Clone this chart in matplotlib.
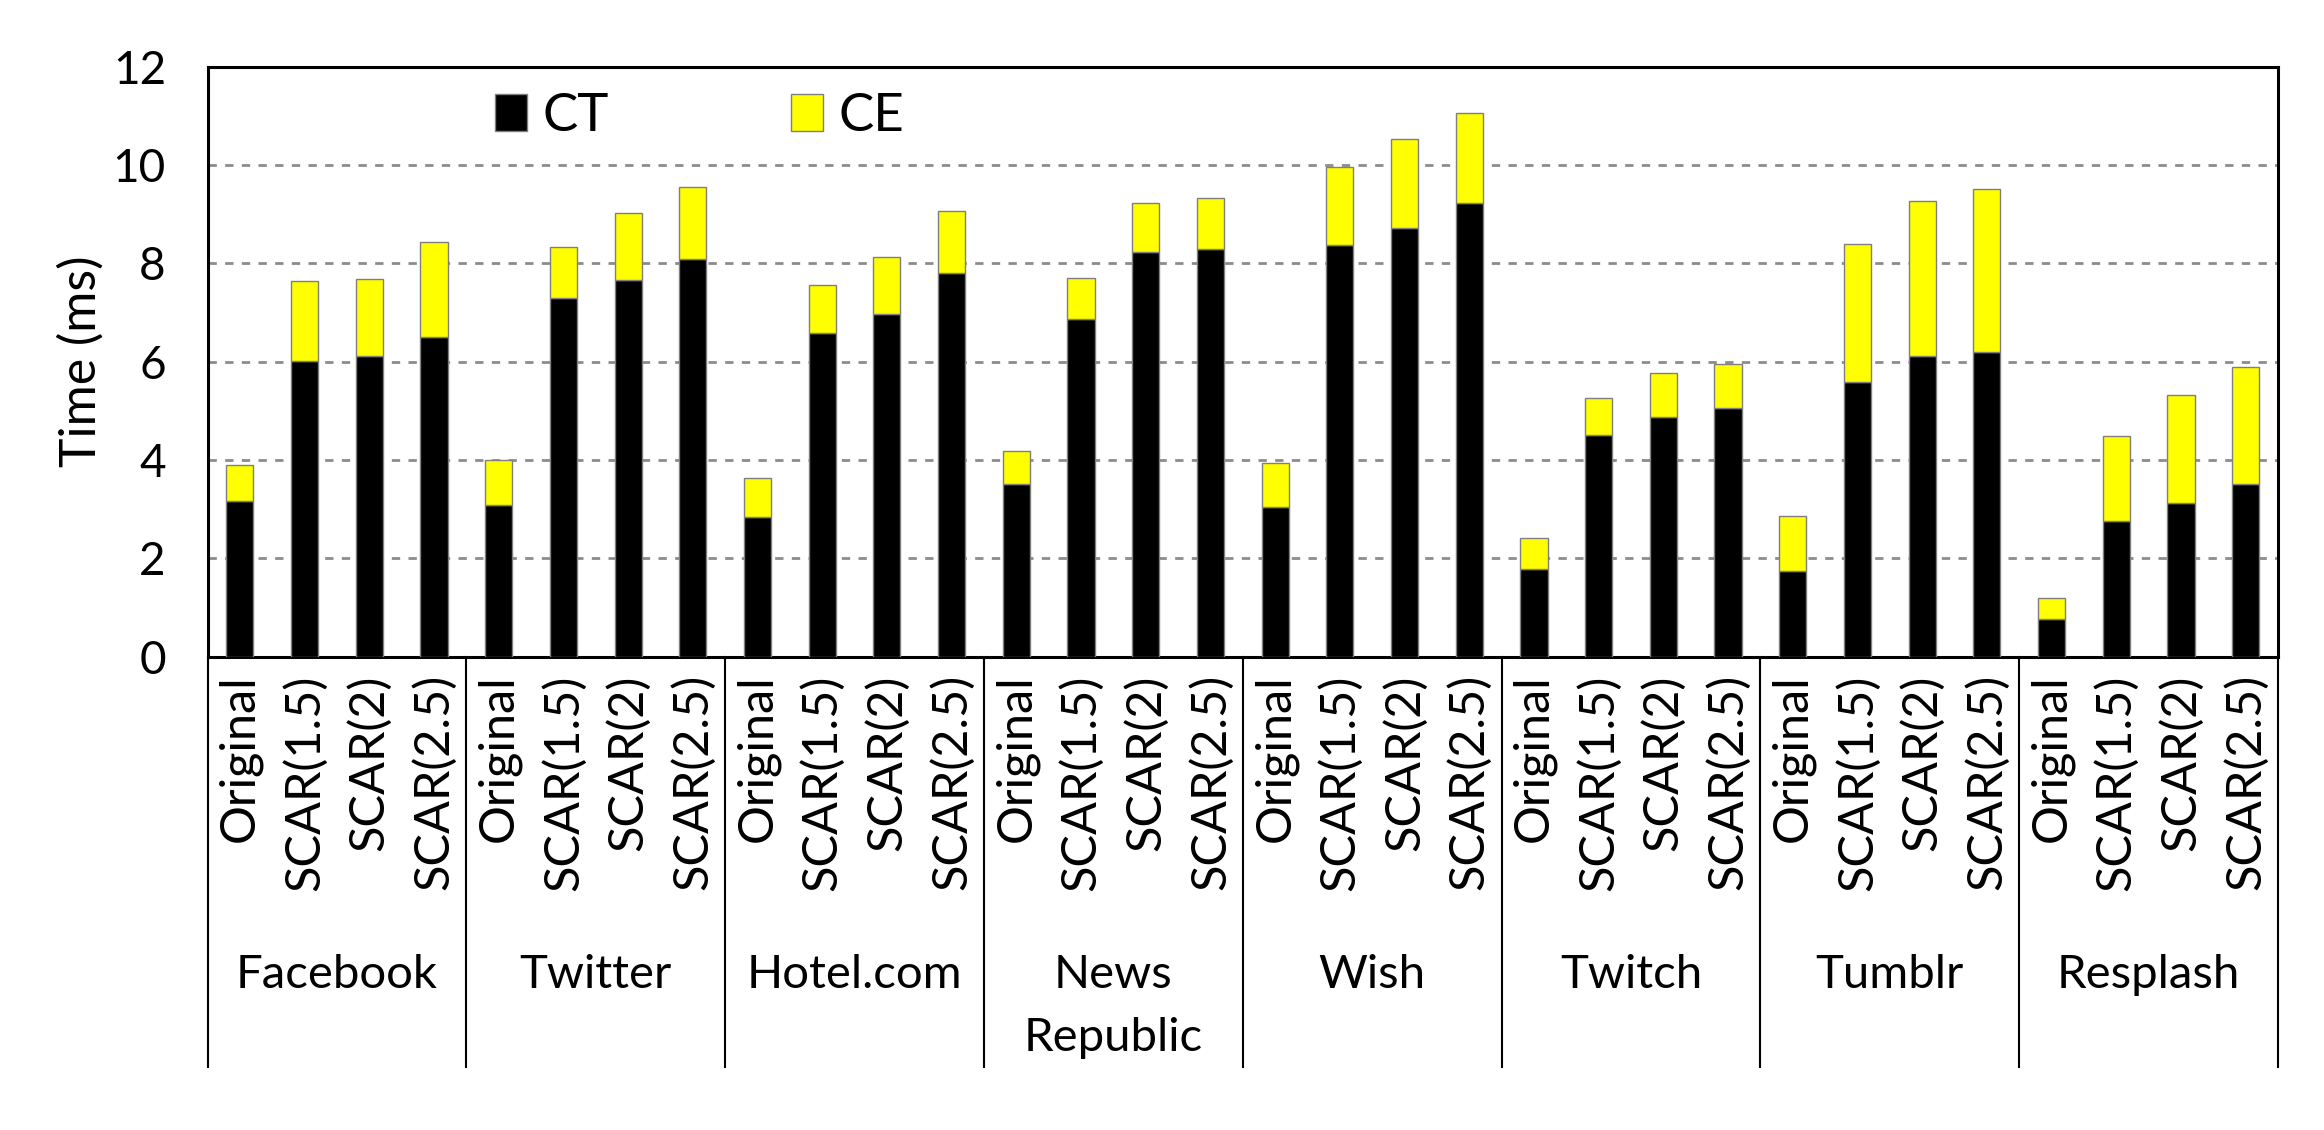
import numpy as np
import matplotlib
matplotlib.use("Agg")
from matplotlib import pyplot as plt
import matplotlib.transforms as mtransforms

plt.rcParams['font.family'] = ['Lato', 'DejaVu Sans']

apps = ['Facebook', 'Twitter', 'Hotel.com', 'News\nRepublic', 'Wish', 'Twitch', 'Tumblr', 'Resplash']
configs = ['Original', 'SCAR(1.5)', 'SCAR(2)', 'SCAR(2.5)']

# CT values per app (Original, SCAR 1.5, 2, 2.5)
ct = [
    [3.17, 6.02, 6.11, 6.50],
    [3.08, 7.29, 7.67, 8.09],
    [2.84, 6.58, 6.96, 7.80],
    [3.50, 6.87, 8.22, 8.29],
    [3.04, 8.38, 8.72, 9.23],
    [1.78, 4.50, 4.88, 5.06],
    [1.75, 5.58, 6.11, 6.20],
    [0.76, 2.76, 3.13, 3.50],
]
# total (CT + CE) heights
total = [
    [3.90, 7.63, 7.68, 8.43],
    [3.99, 8.33, 9.02, 9.56],
    [3.64, 7.56, 8.13, 9.06],
    [4.18, 7.70, 9.22, 9.32],
    [3.93, 9.96, 10.53, 11.05],
    [2.41, 5.26, 5.76, 5.95],
    [2.86, 8.39, 9.27, 9.51],
    [1.20, 4.49, 5.32, 5.90],
]

ct = np.array(ct)
ce = np.array(total) - ct

n_apps = len(apps)
n_cfg = len(configs)
x = np.arange(n_apps * n_cfg)

fig = plt.figure(figsize=(23.24, 11.30), dpi=100)
ax = fig.add_axes([0.0893, 0.419, 0.8909, 0.522])

ax.bar(x, ct.flatten(), width=0.42, color='black', edgecolor='#7f7f7f', linewidth=1, label='CT', zorder=3)
ax.bar(x, ce.flatten(), width=0.42, bottom=ct.flatten(), color='#ffff00', edgecolor='#7f7f7f',
       linewidth=1, label='CE', zorder=3)

ax.set_xlim(-0.5, n_apps * n_cfg - 0.5)
ax.set_ylim(0, 12)
ax.set_yticks(range(0, 13, 2))
ax.tick_params(axis='y', length=0, pad=30, labelsize=33)
ax.set_xticks([])
ax.set_ylabel('Time (ms)', fontsize=36, labelpad=6)

for s in ax.spines.values():
    s.set_linewidth(2.2)
    s.set_color('black')

# dashed grid lines
for yv in range(2, 12, 2):
    ax.axhline(yv, color='#8c8c8c', linestyle=(0, (3, 3)), linewidth=2, zorder=1)

# two level x axis
trans = mtransforms.blended_transform_factory(ax.transData, ax.transAxes)
for i, v in enumerate(x):
    ax.text(v, -0.03, configs[i % n_cfg], rotation=90, ha='center', va='top',
            fontsize=35, transform=trans)
for g in range(n_apps + 1):
    xs = g * n_cfg - 0.5
    ax.plot([xs, xs], [0, -0.696], color='black', linewidth=1.5, transform=trans, clip_on=False)
for g, name in enumerate(apps):
    ax.text(g * n_cfg + 1.5, -0.505, name, ha='center', va='top', fontsize=34,
            linespacing=1.6, transform=trans)

ax.legend(loc='center left', bbox_to_anchor=(0.116, 0.915), ncol=2, frameon=False,
          fontsize=38, columnspacing=3.45, handlelength=0.6, handleheight=0.7, handletextpad=0.3)

fig.savefig('out.png', dpi=100)
